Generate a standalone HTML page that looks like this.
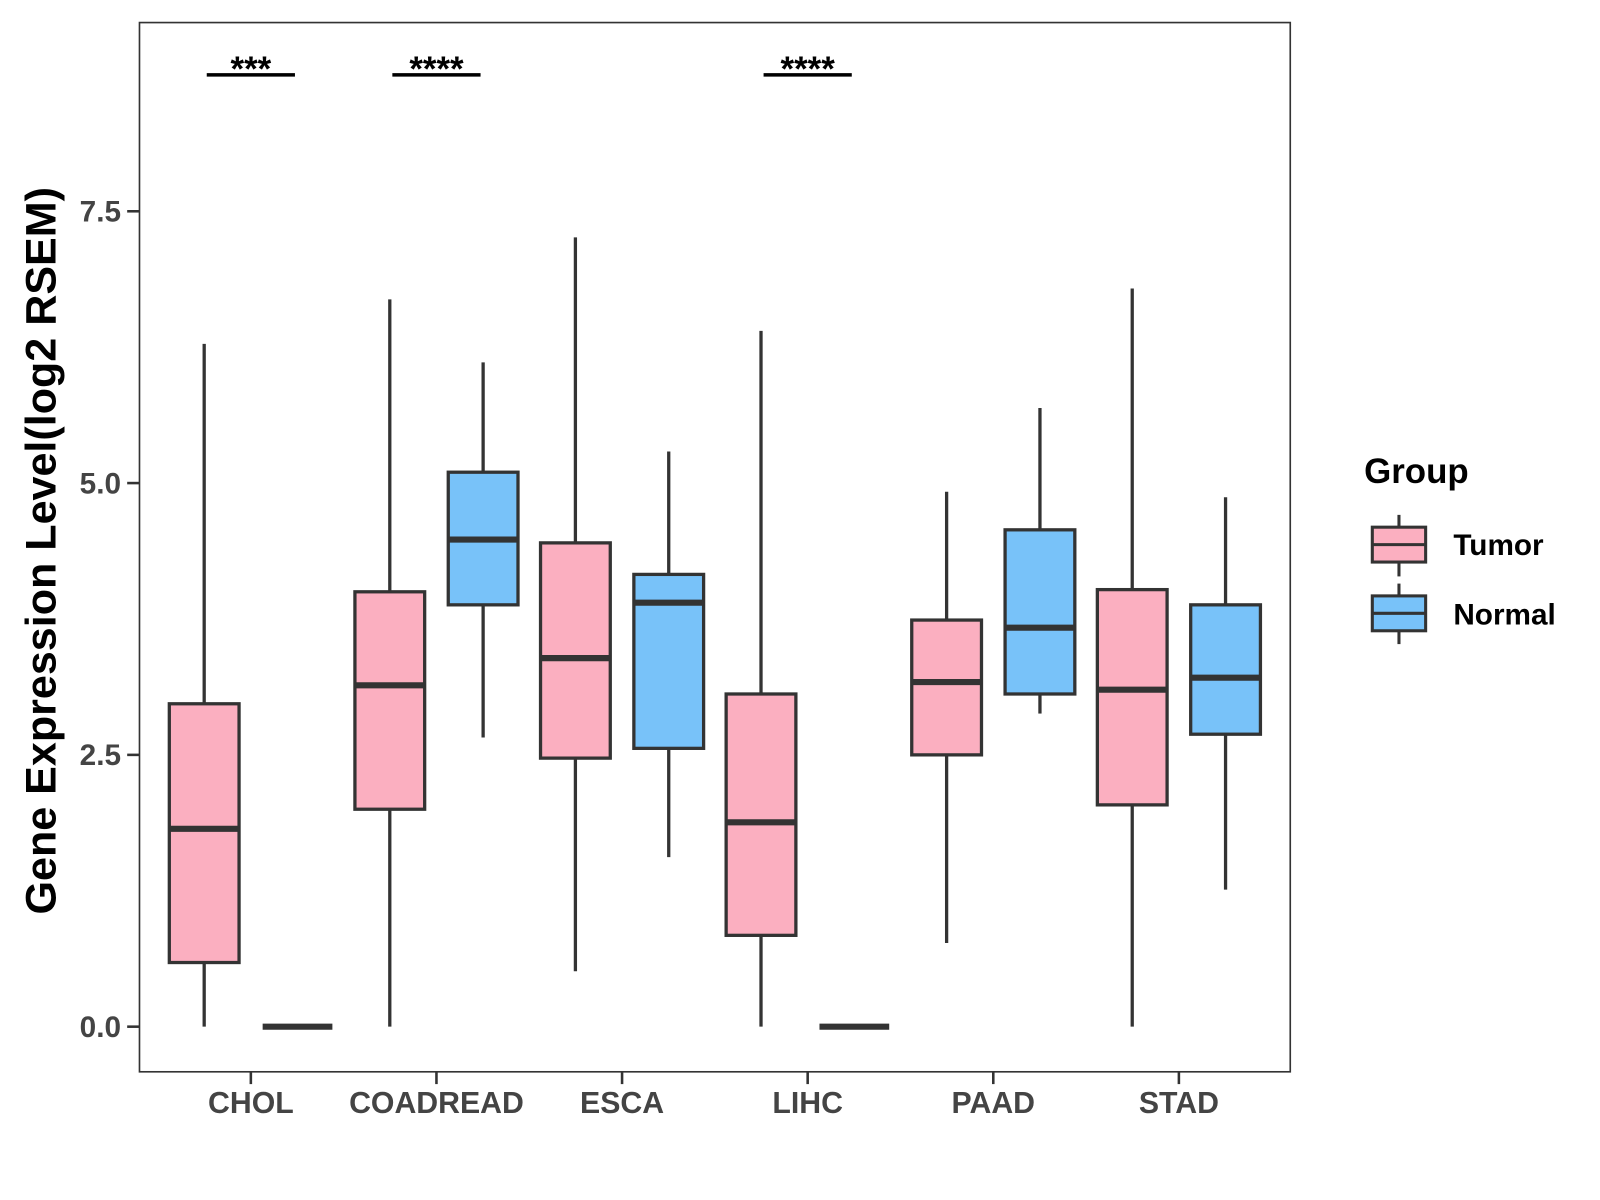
<!DOCTYPE html>
<html><head><meta charset="utf-8"><style>
html,body{margin:0;padding:0;background:#fff;}
svg{display:block;font-family:"Liberation Sans",Arial,sans-serif;}
</style></head><body>
<svg id="chart" width="1600" height="1200" viewBox="0 0 1560 1170" xmlns="http://www.w3.org/2000/svg">
<rect x="0" y="0" width="1560" height="1170" fill="#fff"/>
<g id="marks"></g>
<rect x="136" y="22" width="1122" height="1023" fill="none" stroke="#333" stroke-width="1.6"/>
<g id="axes"></g>
<text transform="translate(54,537) rotate(-90)" text-anchor="middle" font-size="42" font-weight="bold" fill="#000">Gene Expression Level(log2 RSEM)</text>
<g>
<text x="1330" y="471" font-size="34" font-weight="bold">Group</text>
<g>
<line x1="1364" y1="502" x2="1364" y2="562" stroke="#333" stroke-width="3"/>
<rect x="1338" y="514" width="52" height="34" fill="#FBAFC0" stroke="#333" stroke-width="3"/>
<line x1="1338" y1="531" x2="1390" y2="531" stroke="#333" stroke-width="3"/>
<text x="1417" y="541" font-size="29" font-weight="bold">Tumor</text>
</g>
<g>
<line x1="1364" y1="569" x2="1364" y2="628" stroke="#333" stroke-width="3"/>
<rect x="1338" y="581" width="52" height="34" fill="#78C2F9" stroke="#333" stroke-width="3"/>
<line x1="1338" y1="598" x2="1390" y2="598" stroke="#333" stroke-width="3"/>
<text x="1417" y="609" font-size="29" font-weight="bold">Normal</text>
</g>
</g>
</svg>
<script>
const categories = ["CHOL","COADREAD","ESCA","LIHC","PAAD","STAD"];
// [min, q1, median, q3, max]
const tumorStats = [
  [0, 0.59, 1.82, 2.97, 6.28],
  [0, 2.0, 3.14, 4.0, 6.69],
  [0.51, 2.47, 3.39, 4.45, 7.26],
  [0, 0.84, 1.88, 3.06, 6.40],
  [0.77, 2.50, 3.17, 3.74, 4.92],
  [0, 2.04, 3.10, 4.02, 6.79]
];
const normalStats = [
  [0, 0, 0, 0, 0],
  [2.66, 3.88, 4.48, 5.10, 6.11],
  [1.56, 2.56, 3.90, 4.16, 5.29],
  [0, 0, 0, 0, 0],
  [2.88, 3.06, 3.67, 4.57, 5.69],
  [1.26, 2.69, 3.21, 3.88, 4.87]
];
const signifLabels = ["***","****","","****","",""];
const yTicks = [0, 2.5, 5.0, 7.5];
const yTickLabels = ["0.0","2.5","5.0","7.5"];

const NS="http://www.w3.org/2000/svg";
const px0=136, pw=1122;
const step = pw/(categories.length-1+1.2);
function xScale(i){ return px0 + (0.6+i)*step; }
function yScale(v){ return 1001 - v*106; }
function mk(tag, attrs, parent){ const e=document.createElementNS(NS,tag); for(const k in attrs) e.setAttribute(k,attrs[k]); parent.appendChild(e); return e; }
const marks=document.getElementById('marks'), axes=document.getElementById('axes');
const bw=68, off=45.5;
function drawBox(s, cx, fill, name){
  const g=mk('g',{},marks);
  
  
  mk('line',{x1:cx,x2:cx,y1:yScale(s[4]),y2:yScale(s[3]),stroke:'#333','stroke-width':3.2},g);
  mk('line',{x1:cx,x2:cx,y1:yScale(s[1]),y2:yScale(s[0]),stroke:'#333','stroke-width':3.2},g);
  mk('rect',{x:cx-bw/2,y:yScale(s[3]),width:bw,height:Math.max(0,yScale(s[1])-yScale(s[3])),fill:fill,stroke:'#333','stroke-width':3.2},g);
  mk('line',{x1:cx-bw/2,x2:cx+bw/2,y1:yScale(s[2]),y2:yScale(s[2]),stroke:'#333','stroke-width':6},g);
}
categories.forEach((c,i)=>{
  const cx=xScale(i);
  drawBox(tumorStats[i], cx-off, '#FBAFC0', 'box-tumor-'+c.toLowerCase());
  drawBox(normalStats[i], cx+off, '#78C2F9', 'box-normal-'+c.toLowerCase());
  mk('line',{x1:cx,x2:cx,y1:1045,y2:1057,stroke:'#333','stroke-width':2.5},axes);
  const t=mk('text',{x:cx,y:1085,'text-anchor':'middle','font-size':29.5,'font-weight':'bold',fill:'#444'},axes);
  t.textContent=c;
  
  
  if(signifLabels[i]){
    const g=mk('g',{},marks);
    
    
    mk('line',{x1:cx-43,x2:cx+43,y1:73,y2:73,stroke:'#000','stroke-width':3.5},g);
    const st=mk('text',{x:cx,y:79,'text-anchor':'middle','font-size':34,'font-weight':'bold'},g);
    st.textContent=signifLabels[i];
  }
});
yTicks.forEach((v,i)=>{
  const y=yScale(v);
  mk('line',{x1:124,x2:136,y1:y,y2:y,stroke:'#333','stroke-width':2.5},axes);
  const t=mk('text',{x:118,y:y+10,'text-anchor':'end','font-size':29,'font-weight':'bold',fill:'#444'},axes);
  t.textContent=yTickLabels[i];
  
  
});
</script>
</body></html>
